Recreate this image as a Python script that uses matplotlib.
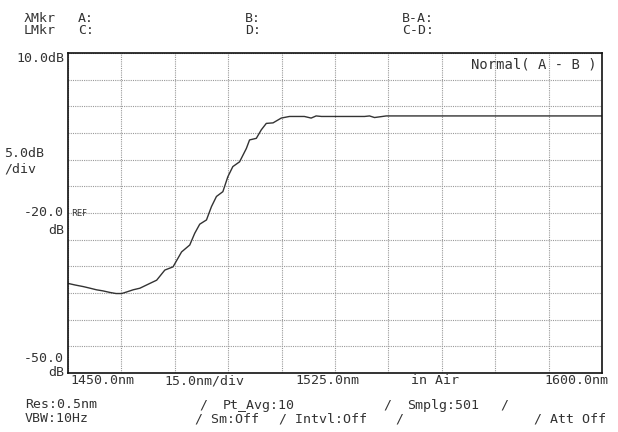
import matplotlib
matplotlib.use("Agg")
import matplotlib.pyplot as plt
import numpy as np

# ---- data ----
wavelength_nm = [1450.0, 1452.0, 1454.3, 1456.2, 1458.0, 1459.8, 1461.8, 1463.5, 1465.1,
                 1466.5, 1468.3, 1470.2, 1473.0, 1474.9, 1477.2, 1479.5, 1481.9, 1484.2,
                 1485.6, 1487.0, 1488.9, 1490.3, 1491.7, 1493.5, 1494.9, 1496.3, 1498.2,
                 1500.1, 1501.0, 1502.9, 1504.3, 1505.7, 1507.6, 1509.9, 1512.2, 1516.4,
                 1518.3, 1519.7, 1521.2, 1533.3, 1534.7, 1536.1, 1539.4, 1571.1, 1600.0]
level_db = [-33.2, -33.5, -33.8, -34.1, -34.4, -34.6, -34.9, -35.1, -35.1,
            -34.8, -34.4, -34.1, -33.2, -32.6, -30.7, -30.1, -27.3, -26.0,
            -23.8, -22.1, -21.3, -18.8, -16.9, -16.0, -13.2, -11.3, -10.4,
            -7.9, -6.3, -6.0, -4.4, -3.2, -3.1, -2.2, -1.9, -1.9,
            -2.2, -1.8, -1.9, -1.9, -1.8, -2.1, -1.8, -1.8, -1.8]

x_min, x_max, x_step = 1450.0, 1600.0, 15.0
y_min, y_max, y_step = -50.0, 10.0, 5.0

header_row1 = ["λMkr", "A:", "B:", "B-A:"]
header_row2 = ["LMkr", "C:", "D:", "C-D:"]
x_labels = ["1450.0nm", "15.0nm/div", "1525.0nm", "in Air", "1600.0nm"]
trace_label = "Normal( A - B )"

W, H = 618, 432
fig = plt.figure(figsize=(W / 100, H / 100), dpi=100)
fig.patch.set_facecolor("white")

L, R, T, B = 68, 602, 53, 373
ax = fig.add_axes([L / W, 1 - B / H, (R - L) / W, (B - T) / H])
ax.set_xlim(x_min, x_max)
ax.set_ylim(y_min, y_max)
ax.set_xticks(np.arange(x_min, x_max + 0.1, x_step))
ax.set_yticks(np.arange(y_min, y_max + 0.1, y_step))
ax.tick_params(length=0, labelbottom=False, labelleft=False)
ax.grid(True, color="#999999", linestyle=(0, (1, 1)), linewidth=0.8)
for s in ax.spines.values():
    s.set_color("#111111")
    s.set_linewidth(1.2)

ax.plot(wavelength_nm, level_db, color="#333333", linewidth=1.0)

FONT = "DejaVu Sans Mono"
FS = 9.5
TC = "#333333"


def txt(x, y, s, ha="left", fs=FS, **kw):
    fig.text(x / W, 1 - y / H, s, ha=ha, va="center", fontsize=fs,
             family=FONT, color=TC, **kw)


# header
for s, x in zip(header_row1, [24, 78, 245, 402]):
    txt(x, 18.5, s)
for s, x in zip(header_row2, [24, 78, 245, 402]):
    txt(x, 31, s)

# y labels
txt(64, 59, "10.0dB", ha="right")
txt(4, 154, "5.0dB")
txt(4, 169, "/div")
txt(64, 213, "-20.0", ha="right")
txt(64, 231, "dB", ha="right")
txt(64, 359, "-50.0", ha="right")
txt(64, 372, "dB", ha="right")
fig.text(71 / W, 1 - 213 / H, "REF", ha="left", va="center", fontsize=6,
         family="DejaVu Sans", color=TC)

# trace label
txt(597, 65, trace_label, ha="right", fs=10)

# x labels
for s, x in zip(x_labels, [70, 164, 295, 411, 544]):
    txt(x, 381, s)

# footer
txt(25, 405, "Res:0.5nm")
txt(199, 405, "/")
txt(223, 405, "Pt_Avg:10")
txt(383, 405, "/")
txt(407, 405, "Smplg:501")
txt(500, 405, "/")
txt(25, 419, "VBW:10Hz")
txt(195, 419, "/ Sm:Off")
txt(279, 419, "/ Intvl:Off")
txt(395, 419, "/")
txt(534, 419, "/ Att Off")

fig.savefig("out.png", dpi=100, facecolor="white")
